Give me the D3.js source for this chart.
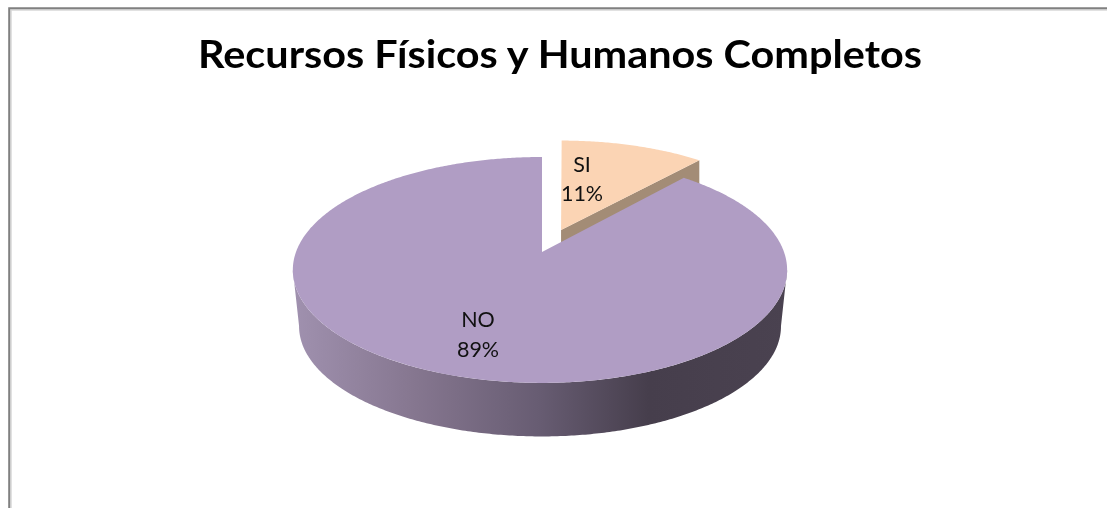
<!DOCTYPE html>
<html><head><meta charset="utf-8">
<script src="https://cdn.jsdelivr.net/npm/d3@7"></script>
<style>html,body{margin:0;padding:0;background:#fff;overflow:hidden}svg{display:block;filter:blur(0.45px)}</style>
</head><body><svg id="c" width="1107" height="508"></svg>
<script>
const title = "Recursos Físicos y Humanos Completos";
const categories = ["SI", "NO"];
const values = [11.4, 88.6];
const explode = [0.22, 0];
const topColors = ["#FBD4B4", "#B09DC4"];

const svg = d3.select("#c");
const W = 1107, H = 508;
svg.append("rect").attr("width", W).attr("height", H).attr("fill", "#fff");
// frame: dark line plus pale inner line, running off the right and bottom edges
svg.append("path").attr("d", "M11 508V10H1107").attr("fill", "none").attr("stroke", "#d8d8d8").attr("stroke-width", 1.5);
svg.append("path").attr("d", "M9.2 508V8.2H1107").attr("fill", "none").attr("stroke", "#808080").attr("stroke-width", 2);

svg.append("text").attr("x", 560).attr("y", 68).attr("text-anchor", "middle")
  .attr("font-family", "Lato,sans-serif").attr("font-weight", 700).attr("font-size", 39)
  .attr("textLength", 724).attr("lengthAdjust", "spacingAndGlyphs").attr("fill", "#000").text(title);

// perspective projection of a tilted unit disc
const k = 0.159;
const sx = d3.scaleLinear().domain([-1, 0, 1]).range([542 - 246, 542, 542 + 242]);
const sy = d3.scaleLinear().domain([-1, 1]).range([252 - 110.1, 252 + 110.1]);
const depth = 56.8, shrink = 0.975;
function project(u, v, lower) {
  const w = 1 - k * v, s = lower ? shrink : 1;
  return [542 + (sx(u / w) - 542) * s, 252 + (sy(v / w) - 252) * s + (lower ? depth : 0)];
}
const pieGen = d3.pie().sort(null).value(d => d);
const arcs = pieGen(values);
const line = d3.line();

function rim(a0, a1, off, lower, lean) {
  const n = Math.max(2, Math.ceil((a1 - a0) / 0.01));
  return d3.range(n + 1).map(i => {
    const a = a0 + (a1 - a0) * i / n;
    const p = project(off[0] + Math.sin(a), off[1] - Math.cos(a), lower);
    p[0] += lean ? 1 + 3 * Math.cos(a) : 0;
    return p;
  });
}
const defs = svg.append("defs");
const grad = defs.append("linearGradient").attr("id", "sideNo")
  .attr("gradientUnits", "userSpaceOnUse").attr("x1", 293).attr("x2", 787).attr("y1", 0).attr("y2", 0);
[[0, "#A091AF"], [0.25, "#85768F"], [0.5, "#675C72"], [0.72, "#463E4C"], [1, "#4A4250"]]
  .forEach(s => grad.append("stop").attr("offset", s[0]).attr("stop-color", s[1]));

function slice(i, topFill, sideFill) {
  const d = arcs[i], mid = (d.startAngle + d.endAngle) / 2;
  const off = [explode[i] * Math.sin(mid), -explode[i] * Math.cos(mid)];
  const lean = i === 0;
  const apex = project(off[0], off[1], false);
  if (lean) apex[0] += 1;
  const top = rim(d.startAngle, d.endAngle, off, false, lean);
  if (i === 0) {
    const last = top[top.length - 1];
    svg.append("path").attr("fill", sideFill)
      .attr("d", line([apex, last, [last[0], last[1] + depth], [apex[0], apex[1] + depth]]) + "Z");
  } else {
    const a0 = Math.PI * 0.55, a1 = Math.PI * 1.45;
    const up = rim(a0, a1, off, false), low = rim(a0, a1, off, true).reverse();
    svg.append("path").attr("fill", sideFill).attr("d", line(up.concat(low)) + "Z");
  }
  svg.append("path").attr("fill", topFill).attr("d", line([apex].concat(top)) + "Z");
}
slice(0, topColors[0], "#A38C76");
slice(1, topColors[1], "url(#sideNo)");

const pct = values.map(v => Math.round(v) + "%");
const labelAt = [[582, 172, 201], [478, 327, 357]];
categories.forEach((c, i) => {
  [c, pct[i]].forEach((t, j) => svg.append("text")
    .attr("x", labelAt[i][0]).attr("y", labelAt[i][j + 1]).attr("text-anchor", "middle")
    .attr("font-family", "Lato,sans-serif").attr("font-size", 21.5).attr("fill", "#111").text(t));
});
</script></body></html>
